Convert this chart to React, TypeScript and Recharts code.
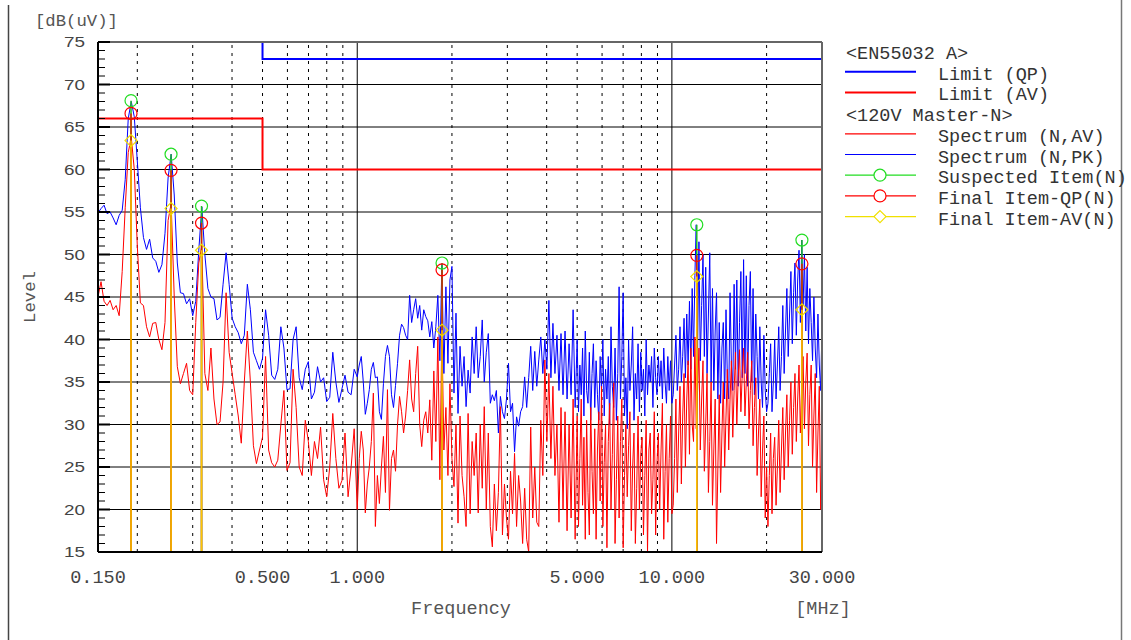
import React from 'react';
import { ComposedChart, Line, Scatter, XAxis, YAxis, ReferenceLine } from 'recharts';

// sweep bands: readings are spread log-evenly over each band
const PK_A = [54.9, 55.4, 55.8, 54.8, 55.0, 54.3, 53.5, 54.6, 55.2, 58.8, 66.0, 68.0, 66.2, 61.0];
const PK_B = [61.0, 55.5, 52.0, 50.6, 51.8, 49.6, 49.2, 47.9, 48.8, 52.5, 59.0, 61.8, 57.0, 49.0, 45.5, 45.4, 44.2, 44.8, 42.8];
const PK_C = [42.8, 44.5, 50.5, 55.6, 50.0, 46.0, 45.0, 44.8, 42.3, 42.6, 46.5, 50.2, 46.5, 42.5, 41.5, 40.8, 39.5, 40.5, 46.5, 43.5, 38.5, 37.5, 36.5, 37.8];
const PK_D = [38.5, 43.5, 40.5, 35.8, 35.3, 36.5, 41.5, 39.0, 34.1, 34.2, 40.0, 41.5, 35.5, 34.1, 36.5, 37.4, 33.0, 33.8, 36.8, 35.0, 35.5, 32.7, 33.2, 38.5, 35.0, 32.6, 34.2, 35.8, 33.8, 33.5, 36.5, 35.6];
const PK_E = [35.6, 37.0, 38.0, 35.0, 31.2, 32.5, 34.1, 36.5, 37.3, 35.5, 35.6, 31.5, 30.6, 34.8, 38.0, 39.3, 38.0, 33.5, 32.0, 34.6, 37.2, 40.5, 41.8, 41.4, 40.5, 40.0, 45.2, 42.0, 43.5, 44.8, 42.5, 44.0, 41.1, 43.5, 42.7, 42.2, 40.3, 42.1, 39.0, 41.5, 45.2, 37.5, 48.9, 36.0, 46.2, 37.2, 47.0, 48.6];
const PK_F = [48.6, 33.7, 43.1, 31.3, 39.2, 34.5, 38.0, 32.1, 36.4, 33.7, 40.3, 36.0, 41.5, 35.5, 38.0, 42.3, 35.0, 38.5, 40.7, 32.5, 33.5, 32.8, 34.0, 29.0, 33.3, 31.5, 30.7, 33.0, 37.2, 31.5, 32.5, 26.8, 30.9, 29.8, 31.5, 32.1, 35.6, 32.0, 35.5, 39.2, 34.0, 38.6, 34.5, 37.6, 40.3, 36.0, 40.0, 36.5, 44.6, 35.5, 41.9, 36.0, 40.5, 34.0, 40.7, 33.5, 41.0, 33.0, 39.5, 33.5, 43.5, 32.0, 40.0];
const PK_G = [
  40.0, 31.5, 37.0, 33.5, 39.0, 31.0, 41.0, 34.0, 32.5, 38.5,
  30.5, 36.0, 39.5, 32.0, 37.5, 33.5, 30.5, 38.0, 34.0, 40.0,
  31.0, 36.5, 33.0, 38.0, 30.0, 41.5, 34.5, 32.0, 39.0, 30.5,
  36.0, 46.2, 33.0, 38.0, 45.5, 31.0, 35.5, 29.5, 40.0, 34.0,
  37.0, 41.5, 30.5, 36.0, 33.0, 39.5, 31.5, 38.5, 34.0, 36.5,
  31.0, 40.0, 33.5, 37.0, 35.0, 38.0, 32.0, 39.0, 35.5, 33.5,
  38.0, 34.5, 37.5, 33.0, 39.0, 35.0, 32.5, 38.0, 34.0, 37.5, 32.5,
];
const PK_H = [
  39.0, 33.5, 37.0, 40.5, 34.0, 36.5, 41.5, 35.0, 38.0, 42.5,
  35.5, 43.0, 37.0, 44.5, 36.5, 46.0, 38.0, 47.5, 53.5, 39.0,
  51.5, 37.5, 44.0, 50.0, 38.0, 48.5, 36.0, 43.0, 50.2, 35.0,
  46.0, 34.0, 41.0, 45.5, 33.0, 42.0, 32.5, 39.0, 42.0, 33.0,
  43.5, 35.5, 33.0, 45.5, 37.0, 34.0, 46.5, 36.5, 47.0, 34.5,
  42.0, 48.0, 35.5, 49.4, 36.0, 47.5, 34.5, 44.0, 48.0, 35.0,
  46.0, 33.5, 43.0, 38.0, 33.0, 41.5, 35.0, 32.0, 40.5, 34.0, 31.5,
];
const PK_I = [
  40.0, 32.5, 36.0, 39.5, 31.5, 35.0, 40.0, 33.0, 37.0, 41.5,
  34.0, 38.0, 44.0, 36.0, 41.0, 46.0, 38.0, 43.0, 48.0, 39.5,
  45.5, 49.0, 40.5, 47.0, 50.5, 42.0, 51.7, 44.0, 50.0, 41.0,
  48.5, 39.5, 46.0, 42.0, 37.5, 45.0, 39.0, 35.5, 43.0, 37.0, 34.0, 41.5,
];

const AV_A = [45.0, 46.8, 44.5, 44.0, 44.6, 43.5, 44.0, 42.8, 48.0, 55.5, 62.0, 63.8, 60.0, 51.0];
const AV_B = [51.0, 44.3, 44.0, 41.5, 40.3, 41.9, 42.0, 40.0, 38.8, 42.0, 54.0, 56.0, 45.0, 36.8, 34.8, 36.0, 37.2, 34.0, 33.5];
const AV_C = [33.5, 42.0, 49.0, 51.0, 36.0, 34.0, 39.0, 33.0, 30.0, 30.3, 35.0, 45.5, 38.5, 36.0, 33.5, 31.0, 27.8, 35.0, 41.0, 35.0, 27.5, 25.4, 27.0, 28.5];
const AV_D = [28.5, 38.0, 27.0, 25.5, 25.0, 25.8, 30.0, 34.0, 24.6, 25.5, 36.5, 32.0, 25.0, 24.0, 30.5, 28.0, 24.0, 28.0, 26.0, 29.7, 23.5, 21.5, 25.0, 31.3, 26.0, 22.5, 23.4, 29.0, 21.5, 25.0, 29.5, 20.0];
const AV_E = [17.5, 26.0, 29.2, 27.0, 19.6, 23.0, 25.0, 28.0, 33.7, 18.0, 24.0, 20.7, 25.0, 28.6, 22.0, 34.1, 19.9, 26.0, 27.0, 24.5, 30.0, 33.3, 31.5, 29.0, 31.0, 34.0, 37.6, 33.0, 31.5, 36.0, 39.2, 30.0, 27.4, 30.5, 31.5, 29.0, 32.9, 25.8, 36.3, 28.0, 40.3, 23.5, 41.2, 27.0, 32.0, 24.0, 34.8, 26.0];
const AV_F = [26.0, 22.7, 30.0, 18.4, 31.0, 24.0, 21.5, 18.0, 31.3, 19.5, 28.0, 24.0, 29.0, 19.6, 30.0, 22.5, 32.1, 20.0, 29.0, 18.0, 15.6, 23.0, 17.5, 22.0, 32.1, 17.0, 23.0, 19.0, 16.5, 24.5, 19.5, 26.6, 18.0, 24.0, 21.0, 16.0, 22.5, 16.5, 15.0, 29.7, 19.0, 25.0, 18.5, 18.0, 30.5, 24.0, 37.6, 28.0, 36.0, 26.0, 34.5, 24.0, 30.0, 18.5, 32.0, 20.0, 31.5, 17.5, 30.0, 19.0, 33.0, 16.5, 31.0];
const AV_G = [
  31.0, 18.0, 26.0, 33.0, 20.5, 28.5, 16.5, 30.5, 22.0, 17.0,
  32.0, 24.5, 19.5, 29.5, 16.5, 27.0, 31.5, 21.0, 34.5, 18.0,
  25.5, 30.0, 15.5, 28.0, 32.5, 20.0, 26.5, 34.9, 16.0, 23.5,
  31.0, 19.0, 28.0, 33.0, 15.5, 24.0, 30.0, 21.5, 27.5, 31.5,
  17.5, 25.0, 29.0, 16.0, 22.5, 31.0, 20.0, 26.5, 28.5, 17.0,
  24.0, 30.5, 15.0, 27.0, 29.0, 19.5, 23.5, 31.5, 17.0, 25.5,
  29.0, 20.0, 27.0, 32.5, 16.5, 24.5, 30.0, 18.5, 26.0, 31.0, 19.5,
];
const AV_H = [
  31.0, 20.5, 26.0, 33.0, 22.0, 29.0, 34.5, 23.0, 31.0, 36.0,
  25.0, 33.0, 37.5, 26.5, 39.0, 30.0, 28.0, 40.3, 29.5, 34.0,
  39.0, 27.0, 33.0, 37.5, 24.5, 30.0, 36.0, 22.0, 28.0, 35.0,
  20.5, 27.0, 33.0, 16.0, 25.0, 33.5, 22.0, 29.0, 35.0, 25.0,
  31.0, 36.5, 27.0, 33.0, 37.5, 28.5, 34.0, 38.5, 30.0, 35.5,
  38.8, 31.5, 36.0, 39.0, 31.0, 35.0, 38.5, 29.5, 34.0, 37.5,
  27.5, 32.0, 35.5, 24.0, 29.0, 33.0, 21.5, 27.0, 31.0, 19.0, 25.0,
];
const AV_I = [
  30.0, 18.0, 24.0, 29.0, 19.5, 26.0, 28.5, 20.5, 25.0, 30.5,
  22.0, 27.0, 32.0, 23.5, 29.0, 33.5, 25.0, 30.5, 35.0, 26.5,
  32.0, 36.0, 28.0, 33.0, 37.0, 29.0, 34.5, 38.0, 29.5, 35.0,
  38.4, 27.5, 33.5, 37.0, 25.0, 31.0, 36.0, 22.0, 29.0, 34.5, 20.0, 27.0,
];

const BANDS: [number, number][] = [
  [0.15, 0.2], [0.2, 0.3], [0.3, 0.5], [0.5, 1], [1, 2], [2, 5], [5, 10], [10, 20], [20, 30],
];
const PK_READINGS = [PK_A, PK_B, PK_C, PK_D, PK_E, PK_F, PK_G, PK_H, PK_I];
const AV_READINGS = [AV_A, AV_B, AV_C, AV_D, AV_E, AV_F, AV_G, AV_H, AV_I];

const LIMIT_F = [0.15, 0.5, 0.5, 30];
const QP_LIMIT = [79, 79, 73, 73];
const AV_LIMIT = [66, 66, 60, 60];

const MARKER_F = [0.191, 0.256, 0.32, 1.86, 12.0, 25.9];
const SUSPECTED = [68.1, 61.8, 55.7, 49.0, 53.5, 51.7];
const FINAL_QP = [66.6, 59.9, 53.7, 48.2, 49.9, 48.9];
const FINAL_AV = [63.4, 55.4, 50.5, 41.1, 47.4, 43.5];

const X_TICKS = [0.15, 0.5, 1, 5, 10, 30];
const X_DASHED = [0.2, 0.3, 0.4, 0.5, 0.6, 0.7, 0.8, 0.9, 2, 3, 4, 5, 6, 7, 8, 9, 20];
const X_SOLID = [1, 10];
const Y_TICKS = Array.from({ length: 61 }, (_, i) => 15 + i);
const Y_GRID = [20, 25, 30, 35, 40, 45, 50, 55, 60, 65, 70];

const sweep = (readings: number[][]) => {
  const pts: { f: number; v: number }[] = [];
  readings.forEach((vals, s) => {
    const [from, to] = BANDS[s];
    const n = vals.length;
    vals.forEach((v, i) => {
      if (s > 0 && i === 0) return;
      pts.push({ f: from * Math.pow(to / from, i / (n - 1)), v });
    });
  });
  return pts;
};

const pkData = sweep(PK_READINGS);
const avData = sweep(AV_READINGS);
const qpLimit = LIMIT_F.map((f, i) => ({ f, v: QP_LIMIT[i] }));
const avLimit = LIMIT_F.map((f, i) => ({ f, v: AV_LIMIT[i] }));
const toPts = (vals: number[]) => MARKER_F.map((f, i) => ({ f, v: vals[i] }));

const MONO = '"Liberation Mono", "DejaVu Sans Mono", monospace';
const SANS = '"Liberation Sans", Arial, sans-serif';

const YTick = ({ x, y, payload }: any) => {
  const v = payload.value;
  const major = v % 5 === 0;
  return (
    <g>
      <line x1={x + 8} x2={x + 8 + (major ? 12 : 7)} y1={y} y2={y} stroke="#000" strokeWidth={major ? 2 : 1} />
      {major && (
        <text x={x - 5} y={y + 5} textAnchor="end" fontFamily={SANS} fontSize={14} fill="#444"
          textLength={21} lengthAdjust="spacingAndGlyphs">
          {v}
        </text>
      )}
    </g>
  );
};

const circle = (color: string) => (p: any) => (
  <circle cx={p.cx} cy={p.cy} r={6} fill="none" stroke={color} strokeWidth={1.2} />
);
const diamond = (p: any) => (
  <polygon points={`${p.cx},${p.cy - 6} ${p.cx + 6},${p.cy} ${p.cx},${p.cy + 6} ${p.cx - 6},${p.cy}`}
    fill="none" stroke="#f0e000" strokeWidth={1.2} />
);

const LEGEND_ROWS = [
  { label: '<EN55032 A>', header: true },
  { label: 'Limit (QP)', color: '#0000ff', width: 2 },
  { label: 'Limit (AV)', color: '#ff0000', width: 2 },
  { label: '<120V Master-N>', header: true },
  { label: 'Spectrum (N,AV)', color: '#ff0000', width: 1.2 },
  { label: 'Spectrum (N,PK)', color: '#0000ff', width: 1.2 },
  { label: 'Suspected Item(N)', color: '#22dd22', width: 1.2, mark: 'circle' },
  { label: 'Final Item-QP(N)', color: '#ff0000', width: 1.2, mark: 'circle' },
  { label: 'Final Item-AV(N)', color: '#f0e000', width: 1.2, mark: 'diamond' },
];

function Overlay() {
  return (
    <svg width={1131} height={640} style={{ position: 'absolute', left: 0, top: 0, pointerEvents: 'none' }}>
      <line x1={8.5} y1={5} x2={8.5} y2={640} stroke="#444" strokeWidth={1.5} />
      <line x1={1121.5} y1={0} x2={1121.5} y2={640} stroke="#777" strokeWidth={1.5} />
      <text x={35} y={26} fontFamily={MONO} fontSize={17.3} fill="#555">[dB(uV)]</text>
      <text x={35} y={297} transform="rotate(-90 35 297)" textAnchor="middle" fontFamily={MONO} fontSize={17.3} fill="#555">Level</text>
      <text x={461} y={614} textAnchor="middle" fontFamily={MONO} fontSize={18.5} fill="#555">Frequency</text>
      <text x={823} y={614} textAnchor="middle" fontFamily={MONO} fontSize={18.5} fill="#555">[MHz]</text>
      {LEGEND_ROWS.map((r, k) => {
        const cy = 53.5 + 20.7 * k;
        if (r.header) {
          return (
            <text key={k} x={846} y={cy + 5.5} fontFamily={MONO} fontSize={18.5} fill="#333">{r.label}</text>
          );
        }
        const ly = cy - 2.5;
        return (
          <g key={k}>
            <line x1={845} x2={916} y1={ly} y2={ly} stroke={r.color} strokeWidth={r.width} />
            {r.mark === 'circle' && <circle cx={880} cy={ly} r={6} fill="#fff" stroke={r.color} strokeWidth={1.2} />}
            {r.mark === 'diamond' && (
              <polygon points={`880,${ly - 6} 886,${ly} 880,${ly + 6} 874,${ly}`} fill="#fff" stroke={r.color} strokeWidth={1.2} />
            )}
            <text x={938} y={cy + 5.5} fontFamily={MONO} fontSize={18.5} fill="#333">{r.label}</text>
          </g>
        );
      })}
    </svg>
  );
}

export default function App() {
  return (
    <div style={{ position: 'absolute', left: 0, top: 0, width: 1131, height: 640, background: '#fff' }}>
      <ComposedChart width={1131} height={640} margin={{ top: 42, right: 309, bottom: 48, left: 0 }}>
        <XAxis
          type="number"
          dataKey="f"
          scale="log"
          domain={[0.15, 30]}
          allowDataOverflow
          ticks={X_TICKS}
          interval={0}
          tickFormatter={(v: number) => v.toFixed(3)}
          tickSize={0}
          tickMargin={18}
          height={40}
          axisLine={{ stroke: '#000', strokeWidth: 2 }}
          tick={{ fontFamily: MONO, fontSize: 18.5, fill: '#444' }}
        />
        <YAxis
          type="number"
          dataKey="v"
          domain={[15, 75]}
          allowDataOverflow
          ticks={Y_TICKS}
          interval={0}
          tickSize={0}
          tickMargin={8}
          width={98}
          axisLine={{ stroke: '#000', strokeWidth: 2 }}
          tick={<YTick />}
        />
        {Y_GRID.map((y) => (
          <ReferenceLine key={`h${y}`} y={y} stroke="#000" strokeWidth={1} />
        ))}
        {X_DASHED.map((x) => (
          <ReferenceLine key={`d${x}`} x={x} stroke="#000" strokeWidth={1} strokeDasharray="3 5" />
        ))}
        {X_SOLID.map((x) => (
          <ReferenceLine key={`s${x}`} x={x} stroke="#000" strokeWidth={1} />
        ))}
        <Line data={pkData} dataKey="v" stroke="#0000ff" strokeWidth={1} dot={false} activeDot={false} isAnimationActive={false} />
        <Line data={avData} dataKey="v" stroke="#ff0000" strokeWidth={1} dot={false} activeDot={false} isAnimationActive={false} />
        <Line data={qpLimit} dataKey="v" stroke="#0000ff" strokeWidth={2} dot={false} activeDot={false} isAnimationActive={false} />
        <Line data={avLimit} dataKey="v" stroke="#ff0000" strokeWidth={2} dot={false} activeDot={false} isAnimationActive={false} />
        {MARKER_F.map((f, i) => (
          <ReferenceLine key={`gs${i}`} segment={[{ x: f, y: 15 }, { x: f, y: SUSPECTED[i] }]} stroke="#20c020" strokeWidth={1.5} />
        ))}
        {MARKER_F.map((f, i) => (
          <ReferenceLine key={`rs${i}`} segment={[{ x: f, y: 15 }, { x: f, y: FINAL_QP[i] }]} stroke="#e02000" strokeWidth={1.5} />
        ))}
        {MARKER_F.map((f, i) => (
          <ReferenceLine key={`ys${i}`} segment={[{ x: f, y: 15 }, { x: f, y: FINAL_AV[i] }]} stroke="#ffc400" strokeWidth={1.5} />
        ))}
        <ReferenceLine y={75} stroke="#666" strokeWidth={2} />
        <ReferenceLine x={30} stroke="#666" strokeWidth={2} />
        <Scatter data={toPts(SUSPECTED)} shape={circle('#22dd22')} isAnimationActive={false} />
        <Scatter data={toPts(FINAL_QP)} shape={circle('#ff0000')} isAnimationActive={false} />
        <Scatter data={toPts(FINAL_AV)} shape={diamond} isAnimationActive={false} />
      </ComposedChart>
      <Overlay />
    </div>
  );
}
